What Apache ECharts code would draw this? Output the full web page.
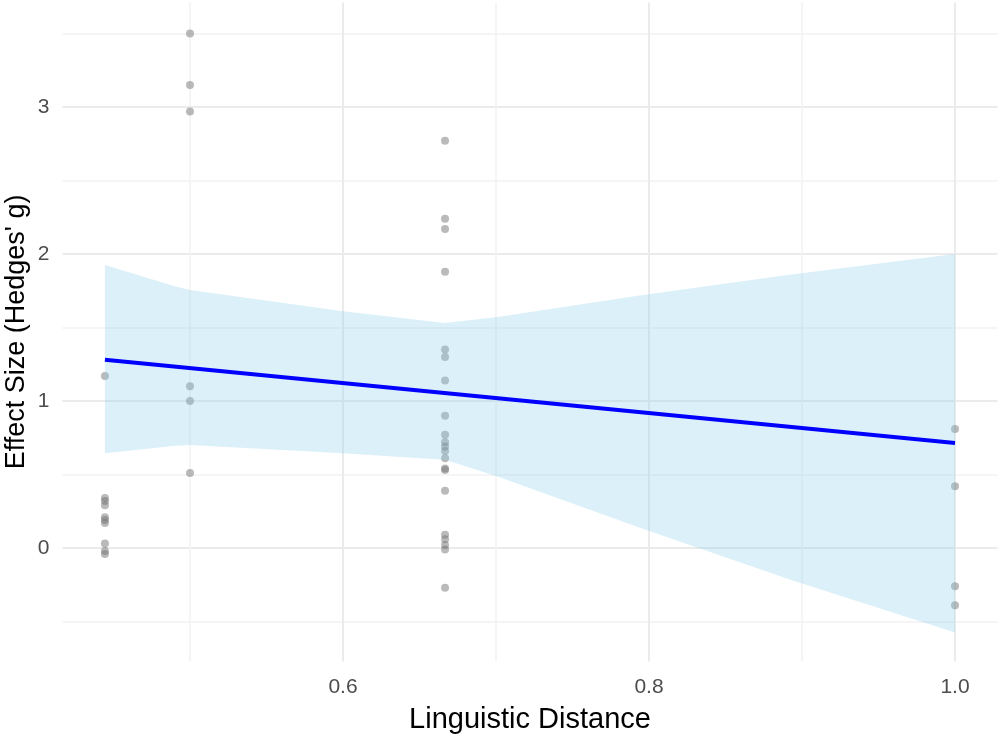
<!DOCTYPE html>
<html>
<head>
<meta charset="utf-8">
<script src="https://cdn.jsdelivr.net/npm/echarts@6/dist/echarts.min.js"></script>
<style>
  html, body { margin: 0; padding: 0; background: #fff; }
  #chart { width: 1000px; height: 737px; }
</style>
</head>
<body>
<div id="chart"></div>
<script>
/* data */
const distG1 = 0.4444;
const effectG1 = [1.17, 0.34, 0.32, 0.29, 0.21, 0.19, 0.17, 0.03, -0.02, -0.04];
const distG2 = 0.5;
const effectG2 = [3.50, 3.15, 2.97, 1.10, 1.00, 0.51];
const distG3 = 0.6667;
const effectG3 = [2.77, 2.24, 2.17, 1.88, 1.35, 1.30, 1.14, 0.90, 0.77, 0.72, 0.69, 0.66, 0.61, 0.54, 0.53, 0.39, 0.09, 0.06, 0.02, -0.01, -0.27];
const distG4 = 1.0;
const effectG4 = [0.81, 0.42, -0.26, -0.39];

const fitX = [0.4444, 1.0];
const fitY = [1.28, 0.715];

const bandX = [0.4444, 0.49, 0.5, 0.6, 0.6667, 0.7, 0.795, 0.893, 1.0];
const bandUpper = [1.925, 1.78, 1.755, 1.61, 1.53, 1.57, 1.72, 1.86, 2.0];
const bandLower = [0.645, 0.695, 0.70, 0.645, 0.60, 0.49, 0.134, -0.218, -0.575];

const xMajor = [0.6, 0.8, 1.0];
const xMinor = [0.5, 0.7, 0.9];
const yMajor = [0, 1, 2, 3];
const yMinor = [-0.5, 0.5, 1.5, 2.5, 3.5];

const points = [];
[[distG1, effectG1], [distG2, effectG2], [distG3, effectG3], [distG4, effectG4]].forEach(([d, vals]) => {
    vals.forEach(v => points.push([d, v]));
});
const bandData = bandX.map((x, i) => [x, bandUpper[i], bandLower[i]]);
const fitData = fitX.map((x, i) => [x, fitY[i]]);

const font = 'Liberation Sans, Arial, sans-serif';
const gridColor = '#ebebeb';

const chart = echarts.init(document.getElementById('chart'), null, { renderer: 'canvas' });
chart.setOption({
    animation: false,
    backgroundColor: '#ffffff',
    grid: { left: 62.5, right: 2.5, top: 2.6, bottom: 75.8, containLabel: false, outerBoundsMode: 'none' },
    xAxis: [
        {
            type: 'value', min: 0.41667, max: 1.02778,
            name: 'Linguistic Distance', nameLocation: 'middle', nameGap: 44,
            nameTextStyle: { fontFamily: font, fontSize: 29, color: '#000' },
            axisLine: { show: false },
            axisTick: { show: false, customValues: xMajor },
            axisLabel: { customValues: xMajor, formatter: v => v.toFixed(1), color: '#4d4d4d', fontFamily: font, fontSize: 21, margin: 16 },
            splitLine: { show: true, lineStyle: { color: gridColor, width: 2 } }
        },
        {
            type: 'value', min: 0.41667, max: 1.02778, position: 'bottom',
            axisLine: { show: false },
            axisTick: { show: false, customValues: xMinor },
            axisLabel: { show: false, customValues: xMinor },
            splitLine: { show: true, lineStyle: { color: '#f2f2f2', width: 1.5 } }
        }
    ],
    yAxis: [
        {
            type: 'value', min: -0.77, max: 3.71,
            name: "Effect Size (Hedges' g)", nameLocation: 'middle', nameGap: 32, nameMoveOverlap: false,
            nameTextStyle: { fontFamily: font, fontSize: 27, color: '#000' },
            axisLine: { show: false },
            axisTick: { show: false, customValues: yMajor },
            axisLabel: { customValues: yMajor, color: '#4d4d4d', fontFamily: font, fontSize: 21, margin: 13 },
            splitLine: { show: true, lineStyle: { color: gridColor, width: 2 } }
        },
        {
            type: 'value', min: -0.77, max: 3.71, position: 'left',
            axisLine: { show: false },
            axisTick: { show: false, customValues: yMinor },
            axisLabel: { show: false, customValues: yMinor },
            splitLine: { show: true, lineStyle: { color: '#f2f2f2', width: 1.5 } }
        }
    ],
    series: [
        {
            type: 'scatter',
            data: points,
            symbolSize: 8,
            itemStyle: { color: 'rgba(110,110,110,0.6)' },
            z: 2
        },
        {
            type: 'custom',
            data: bandData,
            z: 3,
            renderItem: (params, api) => {
                if (params.dataIndex !== 0) return null;
                const up = bandData.map(d => api.coord([d[0], d[1]]));
                const lo = bandData.map(d => api.coord([d[0], d[2]])).reverse();
                return {
                    type: 'polygon',
                    shape: { points: up.concat(lo) },
                    style: { fill: 'rgba(135,206,235,0.3)' }
                };
            },
            encode: { x: 0, y: [1, 2] }
        },
        {
            type: 'line',
            data: fitData,
            symbol: 'none',
            lineStyle: { color: '#0000ff', width: 4 },
            z: 4
        }
    ]
});
</script>
</body>
</html>
